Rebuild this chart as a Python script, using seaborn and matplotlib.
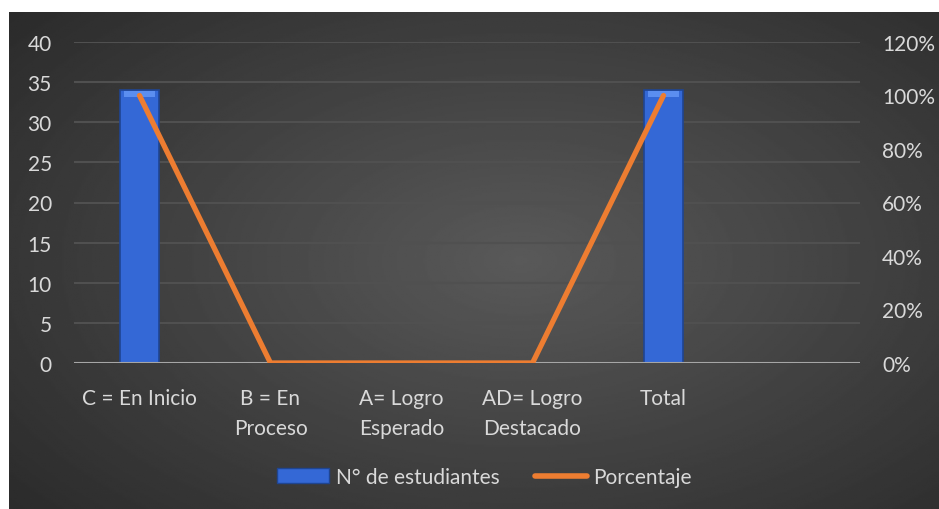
import numpy as np
import pandas as pd
import matplotlib
matplotlib.use("Agg")
import matplotlib.pyplot as plt
import seaborn as sns
from matplotlib.ticker import PercentFormatter
from matplotlib.patches import Patch
from matplotlib.lines import Line2D

categorias = ["C = En Inicio", "B = En\nProceso", "A= Logro\nEsperado",
              "AD= Logro\nDestacado", "Total"]
estudiantes = [34, 0, 0, 0, 34]
porcentaje = [1.0, 0.0, 0.0, 0.0, 1.0]

TEXT = "#d9d9d9"
sns.set_theme(style="dark")
plt.rcParams["font.family"] = ["Lato", "DejaVu Sans"]

df = pd.DataFrame({"cat": categorias, "n": estudiantes, "pct": porcentaje})

fig = plt.figure(figsize=(9.39, 5.10), dpi=100)
fig.patch.set_facecolor("white")

# dark radial background like the spreadsheet chart area
bg = fig.add_axes([9 / 939, 0, 930 / 939, 497 / 510], zorder=-10)
yy, xx = np.mgrid[0:1:300j, 0:1:500j]
r = np.sqrt(((xx - 0.55) / 0.8) ** 2 + ((yy - 0.5) / 0.85) ** 2)
shade = np.clip(0.35 - 0.20 * r, 0.15, 0.35)
bg.imshow(shade, cmap="gray", vmin=0, vmax=1, aspect="auto", extent=[0, 1, 0, 1])
bg.set_axis_off()

ax = fig.add_axes([74 / 939, 1 - 364 / 510, 786 / 939, 321 / 510])
ax.set_facecolor("none")
sns.barplot(data=df, x="cat", y="n", ax=ax, color="#3468d6", width=0.3,
            edgecolor="#1f4592", linewidth=1.2, saturation=1)
# light bevel on the top of each bar
for p in ax.patches:
    if p.get_height() > 0:
        ax.fill_between([p.get_x() + 0.03, p.get_x() + p.get_width() - 0.03],
                        p.get_height() - 0.9, p.get_height() - 0.15,
                        color="#5b8ef0", linewidth=0, zorder=2.5)
ax.set_xlim(-0.5, 5.5)
ax.set_ylim(0, 40)
ax.set_yticks(range(0, 41, 5))
ax.set_xlabel("")
ax.set_ylabel("")
ax.grid(axis="y", color="#505050", linewidth=1.5)
ax.grid(axis="x", visible=False)
ax.set_axisbelow(True)
for s in ax.spines.values():
    s.set_visible(False)
ax.axhline(0, color="#a6a6a6", linewidth=1.5, zorder=3)
ax.tick_params(axis="y", colors=TEXT, labelsize=15, length=0, pad=16)
ax.tick_params(axis="x", colors=TEXT, labelsize=15, length=0, pad=18)
for lbl in ax.get_xticklabels():
    lbl.set_linespacing(1.6)

ax2 = ax.twinx()
sns.lineplot(x=np.arange(len(porcentaje)), y=porcentaje, ax=ax2,
             color="#ed7d31", linewidth=3.8, solid_capstyle="round")
ax2.set_ylim(0, 1.2)
ax2.set_yticks(np.arange(0, 1.21, 0.2))
ax2.yaxis.set_major_formatter(PercentFormatter(1.0, decimals=0))
ax2.tick_params(axis="y", colors=TEXT, labelsize=15, length=0, pad=16)
ax2.grid(False)
for s in ax2.spines.values():
    s.set_visible(False)

handles = [Patch(facecolor="#3468d6", edgecolor="#1f4592"),
           Line2D([0], [0], color="#ed7d31", linewidth=4, solid_capstyle="round")]
fig.legend(handles, ["N° de estudiantes", "Porcentaje"], loc="center",
           bbox_to_anchor=(0.516, 1 - 478 / 510), ncol=2, frameon=False,
           fontsize=15, labelcolor=TEXT, handlelength=2.5, handletextpad=0.3,
           columnspacing=1.7)

fig.savefig("out.png", dpi=100)
